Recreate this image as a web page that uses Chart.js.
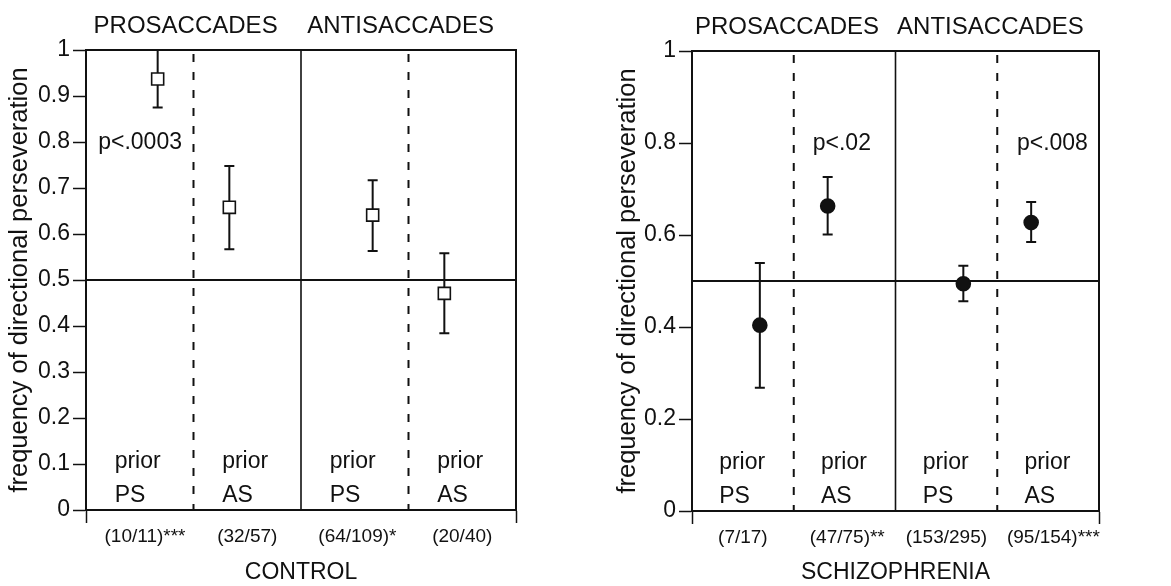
<!DOCTYPE html>
<html>
<head>
<meta charset="utf-8">
<script src="https://cdn.jsdelivr.net/npm/chart.js@4.4.1/dist/chart.umd.min.js"></script>
<style>
  html, body { margin: 0; padding: 0; background: #fff; }
  #wrap { position: relative; width: 1171px; height: 586px; }
  canvas { position: absolute; top: 0; }
  #left { left: 0; }
  #right { left: 580px; }
</style>
</head>
<body>
<div id="wrap">
  <canvas id="left" width="580" height="586"></canvas>
  <canvas id="right" width="591" height="586"></canvas>
</div>
<script>
// conditions, left to right: prosaccades (prior PS, prior AS), antisaccades (prior PS, prior AS)
const conditions = ['prior PS', 'prior AS', 'prior PS', 'prior AS'];
const conditionX = [1, 2, 4, 5];
const groupCentres = [0.75, 2.25, 3.75, 5.25];
const sectionTitles = ['PROSACCADES', 'ANTISACCADES'];

const controlMean = [0.937, 0.658, 0.641, 0.471];
const controlLow = [0.875, 0.567, 0.563, 0.384];
const controlHigh = [1.0, 0.748, 0.717, 0.558];
const controlCounts = ['(10/11)***', '(32/57)', '(64/109)*', '(20/40)'];

const schizMean = [0.404, 0.663, 0.494, 0.627];
const schizLow = [0.268, 0.601, 0.456, 0.585];
const schizHigh = [0.539, 0.726, 0.533, 0.672];
const schizCounts = ['(7/17)', '(47/75)**', '(153/295)', '(95/154)***'];

const controlYTicks = [0, 0.1, 0.2, 0.3, 0.4, 0.5, 0.6, 0.7, 0.8, 0.9, 1];
const schizYTicks = [0, 0.2, 0.4, 0.6, 0.8, 1];

const controlNotes = ['p<.0003'];
const schizNotes = ['p<.02', 'p<.008'];

const chanceLevel = 0.5;
const INK = '#111';
const FONT = '"Liberation Sans", Arial, Helvetica, sans-serif';

Chart.defaults.font.family = FONT;
Chart.defaults.color = INK;

// the stars trail the count; nudge it a little so "(n/N)" sits near the centre
function padCount(s) {
  const stars = (s.match(/\*/g) || []).length;
  return ' '.repeat(Math.round(stars * 0.7)) + s;
}

function makePanel(p) {
  const xTicks = [0, ...groupCentres, 6];
  const dividers = [{ at: 1.5, dashed: true }, { at: 3, dashed: false }, { at: 4.5, dashed: true }];

  const decor = {
    id: 'decor',
    beforeDatasetsDraw(chart) {
      const { ctx, chartArea: a, scales: { x, y } } = chart;
      ctx.save();
      ctx.strokeStyle = INK;

      // chance line
      ctx.lineWidth = 2;
      const yc = y.getPixelForValue(chanceLevel);
      ctx.beginPath();
      ctx.moveTo(a.left, yc);
      ctx.lineTo(a.right, yc);
      ctx.stroke();

      dividers.forEach(d => {
        const px = x.getPixelForValue(d.at);
        ctx.setLineDash(d.dashed ? [8, 10] : []);
        ctx.lineWidth = d.dashed ? 2 : 1.6;
        ctx.beginPath();
        ctx.moveTo(px, d.dashed ? a.top + 4 : a.top);
        ctx.lineTo(px, a.bottom);
        ctx.stroke();
      });
      ctx.setLineDash([]);

      ctx.lineWidth = 2;
      ctx.strokeRect(a.left, a.top, a.width, a.height);

      // error bars
      ctx.lineWidth = 2;
      conditionX.forEach((cx, i) => {
        const px = x.getPixelForValue(cx);
        const lo = y.getPixelForValue(p.low[i]);
        const hi = y.getPixelForValue(p.high[i]);
        ctx.beginPath();
        ctx.moveTo(px, lo); ctx.lineTo(px, hi);
        ctx.moveTo(px - 5, lo); ctx.lineTo(px + 5, lo);
        ctx.moveTo(px - 5, hi); ctx.lineTo(px + 5, hi);
        ctx.stroke();
      });
      ctx.restore();
    },
    afterDraw(chart) {
      const { ctx, chartArea: a, scales: { x, y } } = chart;
      ctx.save();
      ctx.fillStyle = INK;
      ctx.textBaseline = 'alphabetic';

      ctx.font = '24px ' + FONT;
      ctx.textAlign = 'center';
      sectionTitles.forEach((t, i) => {
        ctx.fillText(t, x.getPixelForValue(p.titleX[i]), a.top - 17);
      });

      ctx.font = '23px ' + FONT;
      ctx.textAlign = 'left';
      conditions.forEach((c, i) => {
        const [w1, w2] = c.split(' ');
        const px = x.getPixelForValue(i * 1.5 + 0.4);
        ctx.fillText(w1, px, y.getPixelForValue(0.091));
        ctx.fillText(w2, px, y.getPixelForValue(0.018));
      });

      p.notes.forEach((n, i) => {
        ctx.fillText(n, x.getPixelForValue(p.noteX[i]), y.getPixelForValue(0.784));
      });
      ctx.restore();
    }
  };

  return new Chart(document.getElementById(p.canvas), {
    type: 'scatter',
    data: {
      datasets: [{
        data: conditionX.map((cx, i) => ({ x: cx, y: p.mean[i] })),
        pointStyle: p.pointStyle,
        pointRadius: p.radius,
        pointHoverRadius: p.radius,
        backgroundColor: p.fill,
        borderColor: INK,
        borderWidth: 1.6
      }]
    },
    options: {
      responsive: false,
      animation: false,
      devicePixelRatio: 1,
      layout: { padding: { top: p.top, right: p.right, left: 0, bottom: 0 } },
      plugins: { legend: { display: false }, tooltip: { enabled: false } },
      scales: {
        x: {
          type: 'linear',
          min: 0,
          max: 6,
          afterBuildTicks: s => { s.ticks = xTicks.map(v => ({ value: v })); },
          afterFit: s => { s.height = p.xHeight; },
          ticks: {
            autoSkip: false,
            maxRotation: 0,
            padding: 2,
            font: { size: 19 },
            callback: v => {
              const i = groupCentres.indexOf(v);
              return i < 0 ? '' : padCount(p.counts[i]);
            }
          },
          grid: {
            drawOnChartArea: false,
            tickLength: 13,
            tickWidth: 1.5,
            tickColor: c => (c.tick && (c.tick.value === 0 || c.tick.value === 6)) ? INK : 'rgba(0,0,0,0)'
          },
          border: { display: true, color: INK, width: 2 },
          title: { display: true, text: p.group, font: { size: 23 }, padding: { top: 0, bottom: 0 } }
        },
        y: {
          min: 0,
          max: 1,
          afterBuildTicks: s => { s.ticks = p.yTicks.map(v => ({ value: v })); },
          afterFit: s => { s.width = p.axisWidth; },
          ticks: {
            autoSkip: false,
            padding: 3,
            font: { size: 23 },
            callback: v => String(v)
          },
          grid: { drawOnChartArea: false, tickLength: 13, tickWidth: 1.5, tickColor: INK },
          border: { display: true, color: INK, width: 2 },
          title: {
            display: true,
            text: 'frequency of directional perseveration',
            font: { size: 25.5 },
            padding: { top: p.yTitlePad, bottom: 0 }
          }
        }
      }
    },
    plugins: [decor]
  });
}

makePanel({
  canvas: 'left', group: 'CONTROL',
  mean: controlMean, low: controlLow, high: controlHigh, counts: controlCounts,
  yTicks: controlYTicks, notes: controlNotes, noteX: [0.17], titleX: [1.39, 4.39],
  pointStyle: 'rect', radius: 8.5, fill: '#fff',
  axisWidth: 86, right: 64, top: 50, xHeight: 76, yTitlePad: 5
});

makePanel({
  canvas: 'right', group: 'SCHIZOPHRENIA',
  mean: schizMean, low: schizLow, high: schizHigh, counts: schizCounts,
  yTicks: schizYTicks, notes: schizNotes, noteX: [1.78, 4.79], titleX: [1.4, 4.4],
  pointStyle: 'circle', radius: 7, fill: INK,
  axisWidth: 112, right: 72, top: 51, xHeight: 75, yTitlePad: 33
});
</script>
</body>
</html>
